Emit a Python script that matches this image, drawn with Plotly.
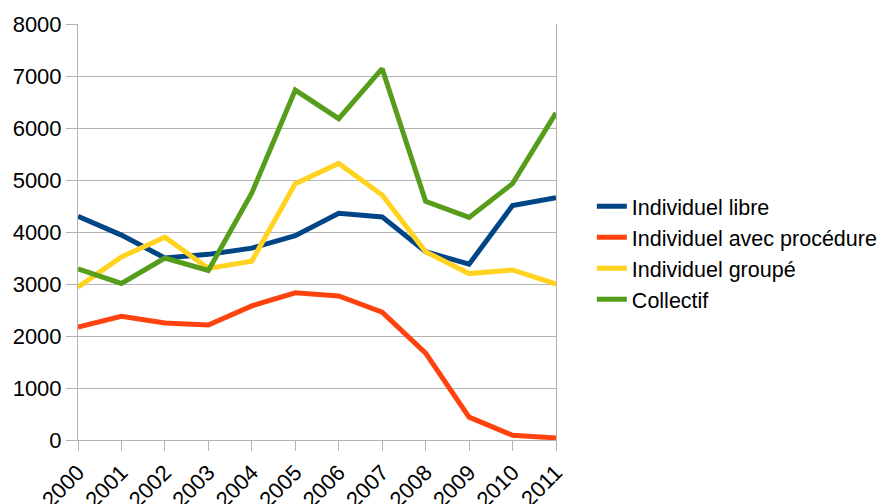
import plotly.graph_objects as go

years = ["2000", "2001", "2002", "2003", "2004", "2005", "2006", "2007", "2008", "2009", "2010", "2011"]
individuel_libre = [4300, 3940, 3500, 3570, 3690, 3930, 4360, 4290, 3620, 3380, 4510, 4660]
individuel_procedure = [2170, 2380, 2250, 2210, 2580, 2830, 2770, 2460, 1670, 440, 90, 40]
individuel_groupe = [2940, 3520, 3900, 3300, 3440, 4930, 5320, 4710, 3620, 3200, 3270, 3000]
collectif = [3290, 3010, 3500, 3260, 4750, 6730, 6180, 7140, 4590, 4280, 4930, 6290]

series = [
    ("Individuel libre", individuel_libre, "#004586"),
    ("Individuel avec procédure", individuel_procedure, "#ff420e"),
    ("Individuel groupé", individuel_groupe, "#ffd320"),
    ("Collectif", collectif, "#579d1c"),
]

fig = go.Figure()
for name, vals, color in series:
    fig.add_trace(go.Scatter(x=years, y=vals, name=name, mode="lines",
                             line=dict(color=color, width=5)))

fig.update_layout(
    width=879, height=504,
    margin=dict(l=78, r=323, t=24, b=64, autoexpand=False),
    plot_bgcolor="white", paper_bgcolor="white",
    font=dict(family="Liberation Sans, Arial, sans-serif", size=22, color="black"),
    legend=dict(x=1.075, y=0.45, xanchor="left", yanchor="middle",
                font=dict(size=21.5), itemwidth=30, tracegroupgap=0),
    xaxis=dict(type="category", range=[0, 11], showgrid=False,
               showline=True, linecolor="#b3b3b3", linewidth=1,
               ticks="outside", tickcolor="#b3b3b3", ticklen=10,
               tickangle=-45, zeroline=False, automargin=False),
    yaxis=dict(range=[0, 8000], dtick=1000, showgrid=True, gridcolor="#b3b3b3",
               showline=True, linecolor="#b3b3b3", linewidth=1, mirror=True,
               ticks="outside", tickcolor="#b3b3b3", ticklen=11, zeroline=False,
               automargin=False),
)
fig.write_html("out.html")
